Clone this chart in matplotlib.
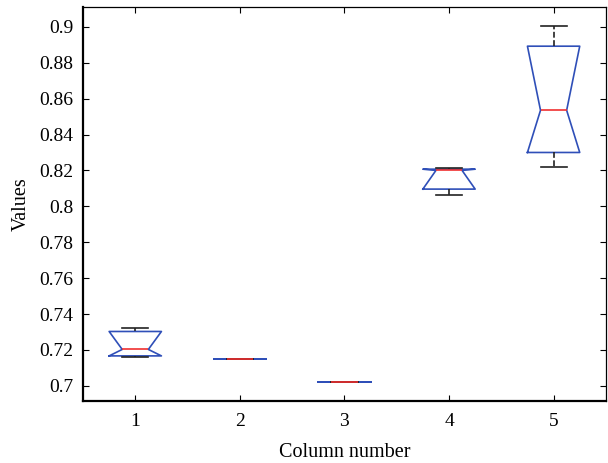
import matplotlib.pyplot as plt

# summary statistics per column (read as quartiles / notch / whisker ends)
columns = [1, 2, 3, 4, 5]
whisker_low = [0.7160, 0.7147, 0.7022, 0.8062, 0.8218]
q1 = [0.7167, 0.7147, 0.7022, 0.8096, 0.8300]
medians = [0.7203, 0.7147, 0.7022, 0.8200, 0.8535]
q3 = [0.7303, 0.7147, 0.7022, 0.8207, 0.8892]
whisker_high = [0.7320, 0.7147, 0.7022, 0.8215, 0.9003]
notch_low = [0.7167, 0.7147, 0.7022, 0.8096, 0.8300]
notch_high = [0.7303, 0.7147, 0.7022, 0.8207, 0.8892]

yticks = [0.7, 0.72, 0.74, 0.76, 0.78, 0.8, 0.82, 0.84, 0.86, 0.88, 0.9]
ytick_labels = ['0.7', '0.72', '0.74', '0.76', '0.78', '0.8',
                '0.82', '0.84', '0.86', '0.88', '0.9']

stats = []
for i in range(len(columns)):
    stats.append({
        'whislo': whisker_low[i], 'q1': q1[i], 'med': medians[i],
        'q3': q3[i], 'whishi': whisker_high[i],
        'cilo': notch_low[i], 'cihi': notch_high[i], 'fliers': [],
    })

plt.rcParams['font.family'] = 'Liberation Serif'

fig = plt.figure(figsize=(6.08, 4.63), dpi=100)
ax = fig.add_axes([0.1365, 0.134, 0.86, 0.850])

blue = '#2f4fb8'
ax.bxp(stats, positions=columns, widths=0.5, shownotches=True,
       showfliers=False,
       boxprops=dict(color=blue, linewidth=1.2),
       medianprops=dict(color='#f03030', linewidth=1.2),
       whiskerprops=dict(color='#222222', linewidth=1.2, linestyle=(0, (3.5, 1.5))),
       capprops=dict(color='#222222', linewidth=1.2))

ax.set_xlim(0.5, 5.5)
ax.set_ylim(0.6916, 0.9108)
ax.set_xticks(columns)
ax.set_xticklabels([str(c) for c in columns])
ax.set_yticks(yticks)
ax.set_yticklabels(ytick_labels)
ax.tick_params(direction='in', top=True, right=True, length=4, width=0.8,
               labelsize=14)
ax.tick_params(axis='x', pad=9)
ax.tick_params(axis='y', pad=7)

for side in ['left', 'bottom']:
    ax.spines[side].set_linewidth(1.6)
for side in ['top', 'right']:
    ax.spines[side].set_linewidth(0.9)

ax.set_xlabel('Column number', fontsize=14.5, labelpad=9)
ax.set_ylabel('Values', fontsize=14.5, labelpad=6)

fig.savefig('out.png', dpi=100)
